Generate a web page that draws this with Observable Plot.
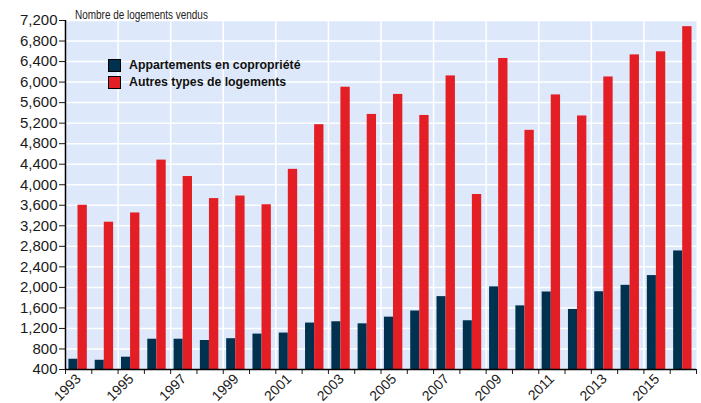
<!DOCTYPE html>
<html><head><meta charset="utf-8">
<script src="https://cdn.jsdelivr.net/npm/d3@7"></script>
<script src="https://cdn.jsdelivr.net/npm/@observablehq/plot@0.6"></script>
<style>
body{margin:0;background:#fff;}
#wrap{position:relative;width:701px;height:403px;font-family:"Liberation Sans",Arial,sans-serif;}
#title{position:absolute;left:75px;top:8px;font-family:"Liberation Sans",Arial,sans-serif;font-size:12px;color:#222;white-space:nowrap;transform:scaleX(0.83);transform-origin:left top;}
#legend{position:absolute;left:108px;top:57px;}
.row{display:flex;align-items:center;height:16px;margin-bottom:1px;font-family:"Liberation Sans",Arial,sans-serif;font-weight:bold;font-size:12.3px;color:#111;white-space:nowrap;}
.sw{width:11px;height:11px;border:1px solid #000;margin-right:8px;}
</style></head>
<body><div id="wrap"></div>
<script>
const years = [1993,1994,1995,1996,1997,1998,1999,2000,2001,2002,2003,2004,2005,2006,2007,2008,2009,2010,2011,2012,2013,2014,2015,2016];
const appartements = [600,580,640,990,990,965,1000,1090,1110,1305,1330,1290,1420,1540,1820,1350,2010,1640,1910,1570,1915,2040,2230,2710];
const autres = [3600,3270,3450,4480,4160,3730,3780,3610,4300,5170,5900,5370,5760,5350,6120,3810,6460,5060,5750,5340,6100,6530,6590,7080];
const seriesNames = ["Appartements en copropriété","Autres types de logements"];
const seriesColors = ["#00324f","#e31e25"];
const yTicks = [400,800,1200,1600,2000,2400,2800,3200,3600,4000,4400,4800,5200,5600,6000,6400,6800,7200];
const labelYears = [1993,1995,1997,1999,2001,2003,2005,2007,2009,2011,2013,2015];
const titleText = "Nombre de logements vendus";
const bg = "#dde9fb";

const data = years.flatMap((y, i) => [
  {year: y, series: seriesNames[0], k: 0, value: appartements[i]},
  {year: y, series: seriesNames[1], k: 1, value: autres[i]}
]);
// group layout within one year band (fractions of a year)
const slot = [[-0.37, -0.025], [-0.025, 0.33]];
const bounds = years.map(y => y - 0.5).concat([years[years.length-1] + 0.5]);
const gridBounds = labelYears.map(y => y - 0.5);
const fmt = d3.format(",d");

const plot = Plot.plot({
  width: 701, height: 403,
  marginLeft: 65, marginRight: 5, marginTop: 20, marginBottom: 34,
  style: {fontFamily: "'Liberation Sans', Arial, sans-serif", fontSize: "14px", color: "#1a1a1a", background: "white", overflow: "visible"},
  x: {domain: [bounds[0], bounds[bounds.length-1]]},
  y: {domain: [yTicks[0], yTicks[yTicks.length-1]]},
  color: {domain: seriesNames, range: seriesColors},
  marks: [
    Plot.frame({fill: bg}),
    Plot.gridY({ticks: yTicks, stroke: "white", strokeOpacity: 1, strokeWidth: 1.5}),
    Plot.gridX({ticks: gridBounds, stroke: "white", strokeOpacity: 1, strokeWidth: 1.5}),
    Plot.rectY(data, {
      x1: d => d.year + slot[d.k][0],
      x2: d => d.year + slot[d.k][1],
      y: "value",
      fill: "series",
      clip: true
    }),
    Plot.axisY({ticks: yTicks, tickFormat: fmt, tickSize: 6, tickPadding: 2, fontSize: 15, label: null}),
    Plot.axisX({ticks: bounds, tickFormat: () => "", tickSize: 5, label: null}),
    Plot.axisX({ticks: labelYears, tickSize: 0, tickRotate: -45, tickPadding: 7, fontSize: 14, tickFormat: d => String(d), label: null}),
    Plot.ruleX([bounds[0]], {stroke: "black", strokeWidth: 1.5}),
    Plot.ruleY([yTicks[0]], {stroke: "black", strokeWidth: 1.5})
  ]
});

const wrap = document.getElementById("wrap");
wrap.appendChild(plot);
const t = document.createElement("div");
t.id = "title"; t.textContent = titleText;
wrap.appendChild(t);
const leg = document.createElement("div");
leg.id = "legend";
seriesNames.forEach((n, i) => {
  const r = document.createElement("div"); r.className = "row";
  const s = document.createElement("div"); s.className = "sw"; s.style.background = seriesColors[i];
  const l = document.createElement("span"); l.textContent = n;
  r.appendChild(s); r.appendChild(l); leg.appendChild(r);
});
wrap.appendChild(leg);
</script>
</body></html>
